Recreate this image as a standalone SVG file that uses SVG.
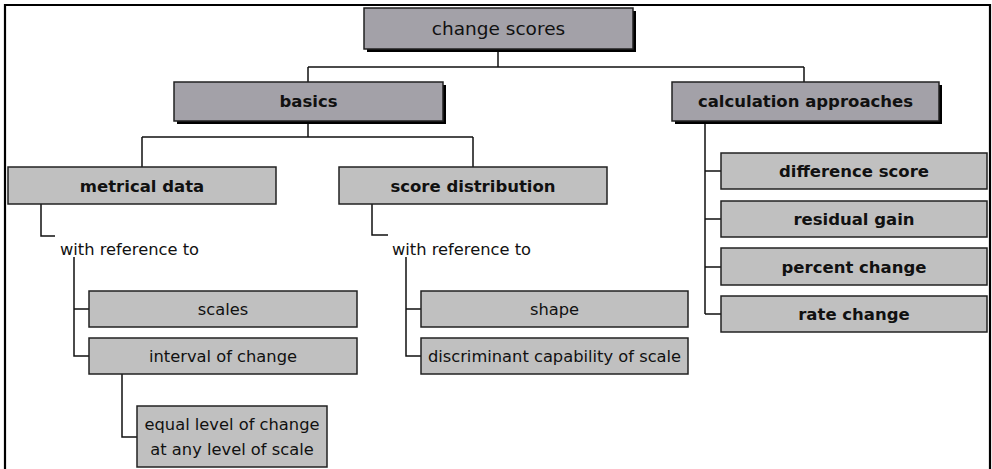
<svg xmlns="http://www.w3.org/2000/svg" width="992" height="469" viewBox="0 0 992 469">
<style>
text{font-family:"DejaVu Sans","Liberation Sans",sans-serif;fill:#111;text-anchor:middle}
.t{font-size:18.5px}
.b{font-size:16.5px;font-weight:bold}
.r{font-size:16.3px}
.top{fill:#a3a1a8;stroke:#222;stroke-width:1.5}
.sh{fill:#000}
.box{fill:#c0c0c0;stroke:#222;stroke-width:1.5}
.c{fill:none;stroke:#111;stroke-width:1.5}
</style>
<rect width="992" height="469" fill="#fff"/>
<path d="M5,469 V5 H990 V469" fill="none" stroke="#000" stroke-width="2.2"/>
<g id="connectors" class="c">
<path d="M498,49 V67 M308,67 H804 M308,67 V82 M804,67 V82"/>
<path d="M308,121 V137 M142,137 H473 M142,137 V167 M473,137 V167"/>
<path d="M705,121 V314 M705,171 H721 M705,219 H721 M705,267 H721 M705,314 H721"/>
<path d="M41,204 V236 H55"/>
<path d="M74,257 V356 H89 M74,309 H89"/>
<path d="M122,374 V437 H137"/>
<path d="M372,204 V235 H388"/>
<path d="M406,257 V356 H421 M406,309 H421"/>
</g>
<g id="change-scores">
<rect class="sh" x="367" y="11" width="269" height="41"/>
<rect class="top" x="364" y="8" width="269" height="41"/>
<text class="t" x="498.5" y="35">change scores</text>
</g>
<g id="basics">
<rect class="sh" x="177" y="85" width="269" height="39"/>
<rect class="top" x="174" y="82" width="269" height="39"/>
<text class="b" x="308.5" y="107">basics</text>
</g>
<g id="calculation-approaches">
<rect class="sh" x="675" y="85" width="267" height="39"/>
<rect class="top" x="672" y="82" width="267" height="39"/>
<text class="b" x="805.5" y="107">calculation approaches</text>
</g>
<g id="metrical-data">
<rect class="box" x="8" y="167" width="268" height="37"/>
<text class="b" x="142" y="192">metrical data</text>
</g>
<g id="score-distribution">
<rect class="box" x="339" y="167" width="268" height="37"/>
<text class="b" x="473" y="192">score distribution</text>
</g>
<g id="with-ref-1">
<text class="r" x="60" y="255" style="text-anchor:start">with reference to</text>
</g>
<g id="with-ref-2">
<text class="r" x="392" y="255" style="text-anchor:start">with reference to</text>
</g>
<g id="scales">
<rect class="box" x="89" y="291" width="268" height="36"/>
<text class="r" x="223" y="315">scales</text>
</g>
<g id="interval-of-change">
<rect class="box" x="89" y="338" width="268" height="36"/>
<text class="r" x="223" y="362">interval of change</text>
</g>
<g id="equal-level">
<rect class="box" x="137" y="406" width="190" height="61"/>
<text class="r" x="232" y="430">equal level of change</text>
<text class="r" x="232" y="455">at any level of scale</text>
</g>
<g id="shape">
<rect class="box" x="421" y="291" width="267" height="36"/>
<text class="r" x="554.5" y="315">shape</text>
</g>
<g id="discriminant">
<rect class="box" x="421" y="338" width="267" height="36"/>
<text class="r" x="554.5" y="362">discriminant capability of scale</text>
</g>
<g id="difference-score">
<rect class="box" x="721" y="153" width="266" height="36"/>
<text class="b" x="854" y="177">difference score</text>
</g>
<g id="residual-gain">
<rect class="box" x="721" y="201" width="266" height="36"/>
<text class="b" x="854" y="225">residual gain</text>
</g>
<g id="percent-change">
<rect class="box" x="721" y="248" width="266" height="37"/>
<text class="b" x="854" y="273">percent change</text>
</g>
<g id="rate-change">
<rect class="box" x="721" y="296" width="266" height="36"/>
<text class="b" x="854" y="320">rate change</text>
</g>
</svg>
